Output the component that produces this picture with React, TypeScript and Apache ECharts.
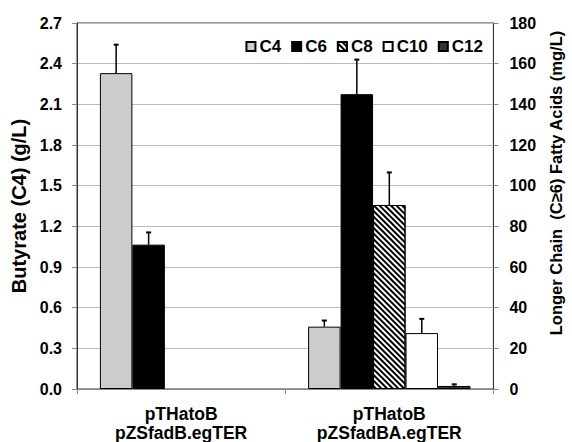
import React, { useEffect, useRef } from "react";
import * as echarts from "echarts";

const categories = ["pTHatoB\npZSfadB.egTER", "pTHatoB\npZSfadBA.egTER"];
const seriesNames = ["C4", "C6", "C8", "C10", "C12"];
const c4Values = [2.33, 0.46];
const c6Values = [71, 145];
const c8Values = [null, 90.5];
const c10Values = [null, 27.5];
const c12Values = [null, 1.5];
const c4Errors = [0.21, 0.045];
const c6Errors = [6, 17];
const c8Errors = [null, 16];
const c10Errors = [null, 7];
const c12Errors = [null, 0.8];
const leftTicks = { min: 0, max: 2.7, interval: 0.3 };
const rightTicks = { min: 0, max: 180, interval: 20 };

const FONT = '"Liberation Sans", Arial, sans-serif';
const CAT_GAP = 0.22;

export default function App() {
  const ref = useRef<HTMLDivElement>(null);
  useEffect(() => {
    if (!ref.current) return;
    const chart = echarts.init(ref.current, null, { renderer: "svg" });

    const values = [c4Values, c6Values, c8Values, c10Values, c12Values];
    const errors = [c4Errors, c6Errors, c8Errors, c10Errors, c12Errors];
    const colors = ["#cccccc", "#000000", "#ffffff", "#ffffff", "#333333"];

    const barSeries = seriesNames.map((name, i) => {
      const s: any = {
        name,
        type: "bar",
        yAxisIndex: i === 0 ? 0 : 1,
        data: values[i],
        barGap: "0%",
        barCategoryGap: CAT_GAP * 100 + "%",
        itemStyle: {
          color: colors[i],
          borderColor: "#000",
          borderWidth: 1,
        },
      };
      if (name === "C8") {
        s.itemStyle.decal = {
          symbol: "rect",
          symbolSize: 1,
          dashArrayX: [1, 0],
          dashArrayY: [1.5, 1.5],
          rotation: Math.PI / 4,
          color: "#000",
        };
      }
      return s;
    });

    const errLeft: any[] = [];
    const errRight: any[] = [];
    errors.forEach((arr, i) => {
      arr.forEach((e, c) => {
        const v = values[i][c];
        if (e == null || v == null) return;
        (i === 0 ? errLeft : errRight).push([c, v, e, i]);
      });
    });

    const renderErr = (params: any, api: any) => {
      const cat = api.value(0);
      const v = api.value(1);
      const e = api.value(2);
      const idx = api.value(3);
      const base = api.coord([cat, v]);
      const top = api.coord([cat, v + e]);
      const catW = api.size([1, 0])[0];
      const barW = (catW * (1 - CAT_GAP)) / 5;
      const x = base[0] + (idx - 2) * barW;
      return {
        type: "group",
        children: [
          { type: "line", shape: { x1: x, y1: base[1], x2: x, y2: top[1] }, style: { stroke: "#000", lineWidth: 1.5 } },
          { type: "line", shape: { x1: x - 2.5, y1: top[1], x2: x + 2.5, y2: top[1] }, style: { stroke: "#000", lineWidth: 2 } },
        ],
      };
    };

    chart.setOption({
      animation: false,
      backgroundColor: "#fff",
      textStyle: { fontFamily: FONT },
      grid: {
        left: 77,
        top: 23,
        width: 425,
        height: 366,
        show: true,
        borderColor: "#333",
        borderWidth: 1,
        backgroundColor: "transparent",
      },
      legend: {
        data: seriesNames,
        right: 84,
        top: 33,
        itemWidth: 9,
        itemHeight: 9,
        itemGap: 10,
        icon: "rect",
        textStyle: { fontFamily: FONT, fontWeight: "bold", fontSize: 17, color: "#000", padding: [0, 0, 0, -1] },
      },
      xAxis: {
        type: "category",
        data: categories,
        axisLine: { lineStyle: { color: "#888" } },
        axisTick: { show: true, length: 5, lineStyle: { color: "#888" } },
        axisLabel: {
          fontFamily: FONT,
          fontWeight: "bold",
          fontSize: 17.5,
          lineHeight: 19,
          color: "#000",
          margin: 15,
        },
      },
      yAxis: [
        {
          type: "value",
          min: leftTicks.min,
          max: leftTicks.max,
          interval: leftTicks.interval,
          name: "Butyrate (C4) (g/L)",
          nameLocation: "middle",
          nameGap: 42,
          nameTextStyle: { fontFamily: FONT, fontWeight: "bold", fontSize: 20, color: "#000" },
          axisLine: { show: true, lineStyle: { color: "#333" } },
          axisTick: { show: true, length: 5, lineStyle: { color: "#888" } },
          axisLabel: {
            fontFamily: FONT,
            fontWeight: "bold",
            fontSize: 16,
            color: "#000",
            margin: 15,
            formatter: (v: number) => v.toFixed(1),
          },
          splitLine: { show: true, lineStyle: { color: "#bbb", width: 1 } },
        },
        {
          type: "value",
          position: "right",
          min: rightTicks.min,
          max: rightTicks.max,
          interval: rightTicks.interval,
          name: "Longer Chain  (C≥6) Fatty Acids (mg/L)",
          nameLocation: "middle",
          nameGap: 51,
          nameRotate: 90,
          nameTextStyle: { fontFamily: FONT, fontWeight: "bold", fontSize: 16.5, color: "#000", padding: [0, 0, 0, 46] },
          axisLine: { show: true, lineStyle: { color: "#333" } },
          axisTick: { show: true, length: 5, lineStyle: { color: "#888" } },
          axisLabel: {
            fontFamily: FONT,
            fontWeight: "bold",
            fontSize: 16,
            color: "#000",
            margin: 16,
          },
          splitLine: { show: false },
        },
      ],
      series: [
        ...barSeries,
        {
          type: "custom",
          name: "errLeft",
          yAxisIndex: 0,
          data: errLeft,
          renderItem: renderErr,
          z: 10,
          silent: true,
        },
        {
          type: "custom",
          name: "errRight",
          yAxisIndex: 1,
          data: errRight,
          renderItem: renderErr,
          z: 10,
          silent: true,
        },
      ],
    });
    return () => chart.dispose();
  }, []);
  return (
    <div
      ref={ref}
      style={{ position: "fixed", left: 0, top: 0, width: 572, height: 442, background: "#fff" }}
    />
  );
}
